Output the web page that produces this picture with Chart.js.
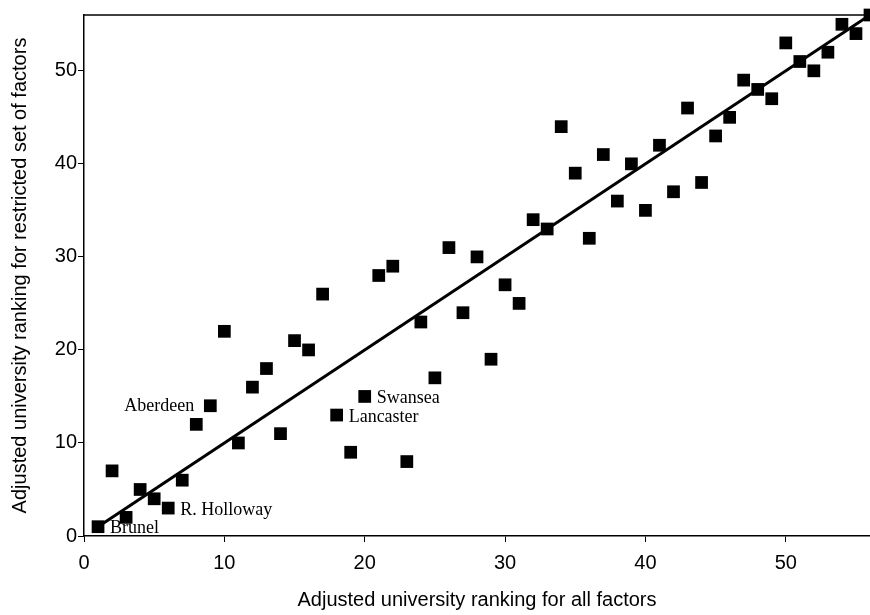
<!DOCTYPE html>
<html>
<head>
<meta charset="utf-8">
<script src="https://cdn.jsdelivr.net/npm/chart.js@4"></script>
<style>
  html, body { margin: 0; padding: 0; background: #fff; overflow: hidden; }
  #wrap { width: 870px; height: 615px; }
</style>
</head>
<body>
<div id="wrap"><canvas id="scatter"></canvas></div>
<script>
// ranking on all factors vs ranking on restricted set
const allFactors = [1, 2, 3, 4, 5, 6, 7, 8, 9, 10, 11, 12, 13, 14, 15, 16, 17, 18, 19, 20,
    21, 22, 23, 24, 25, 26, 27, 28, 29, 30, 31, 32, 33, 34, 35, 36, 37, 38, 39, 40,
    41, 42, 43, 44, 45, 46, 47, 48, 49, 50, 51, 52, 53, 54, 55, 56];
const restricted = [1, 7, 2, 5, 4, 3, 6, 12, 14, 22, 10, 16, 18, 11, 21, 20, 26, 13, 9, 15,
    28, 29, 8, 23, 17, 31, 24, 30, 19, 27, 25, 34, 33, 44, 39, 32, 41, 36, 40, 35,
    42, 37, 46, 38, 43, 45, 49, 48, 47, 53, 51, 50, 52, 55, 54, 56];
const lineX = [1, 56];
const lineY = [1, 56];
const namedUnis = ["Brunel", "R. Holloway", "Aberdeen", "Lancaster", "Swansea"];
const namedRanks = [1, 6, 9, 18, 20];
const axisTicks = [0, 10, 20, 30, 40, 50];

const points = allFactors.map((x, i) => ({x: x, y: restricted[i]}));
const linePts = lineX.map((x, i) => ({x: x, y: lineY[i]}));

// label placement: which side of the marker
const labelSide = {"Aberdeen": "left"};

const uniLabels = {
    id: 'uniLabels',
    afterDatasetsDraw(chart) {
        const ctx = chart.ctx;
        const xs = chart.scales.x, ys = chart.scales.y;
        ctx.save();
        ctx.font = '18px "Liberation Serif", "Times New Roman", serif';
        ctx.fillStyle = '#000';
        ctx.textBaseline = 'middle';
        namedUnis.forEach((name, i) => {
            const r = namedRanks[i];
            const px = xs.getPixelForValue(r);
            const py = ys.getPixelForValue(restricted[allFactors.indexOf(r)]);
            if (labelSide[name] == 'left') {
                ctx.textAlign = 'right';
                ctx.fillText(name, px - 16, py + 1);
            } else {
                ctx.textAlign = 'left';
                ctx.fillText(name, px + 12, py + 2);
            }
        });
        ctx.restore();
    }
};

const frame = {
    id: 'frame',
    beforeDatasetsDraw(chart) {
        const a = chart.chartArea, ctx = chart.ctx;
        ctx.save();
        ctx.strokeStyle = '#000';
        ctx.lineWidth = 1.5;
        ctx.beginPath();
        ctx.moveTo(a.left, a.top);
        ctx.lineTo(a.right, a.top);
        ctx.stroke();
        ctx.restore();
    }
};

const tickFont = {family: '"Liberation Sans", Arial, sans-serif', size: 20};

new Chart("scatter", {
    type: "scatter",
    data: {
        datasets: [{
            data: points,
            pointStyle: 'rect',
            pointRadius: 9,
            pointHoverRadius: 9,
            backgroundColor: '#000',
            borderColor: '#000',
            borderWidth: 0,
            clip: false
        }, {
            type: 'line',
            data: linePts,
            borderColor: '#000',
            borderWidth: 3,
            pointRadius: 0,
            fill: false
        }]
    },
    options: {
        responsive: true,
        maintainAspectRatio: false,
        animation: false,
        layout: {autoPadding: false, padding: {top: 15, right: 0, left: 0, bottom: 0}},
        plugins: {
            legend: {display: false},
            tooltip: {enabled: false}
        },
        scales: {
            x: {
                type: 'linear',
                min: 0,
                max: 56,
                afterBuildTicks: s => { s.ticks = axisTicks.map(v => ({value: v})); },
                afterFit: s => { s.height = 79; s.paddingRight = 0; s.paddingLeft = 0; },
                ticks: {color: '#000', font: tickFont, padding: 9, maxRotation: 0},
                grid: {drawOnChartArea: false, drawTicks: true, tickLength: 6, color: '#000'},
                border: {display: true, color: '#000', width: 1.5},
                title: {
                    display: true,
                    text: 'Adjusted university ranking for all factors',
                    color: '#000',
                    font: tickFont,
                    padding: {top: 4, bottom: 3}
                }
            },
            y: {
                type: 'linear',
                min: 0,
                max: 56,
                afterBuildTicks: s => { s.ticks = axisTicks.map(v => ({value: v})); },
                afterFit: s => { s.width = 84; s.paddingTop = 0; s.paddingBottom = 0; },
                ticks: {color: '#000', font: tickFont, padding: 1},
                grid: {drawOnChartArea: false, drawTicks: true, tickLength: 6, color: '#000'},
                border: {display: true, color: '#000', width: 1.5},
                title: {
                    display: true,
                    text: 'Adjusted university ranking for restricted set of factors',
                    color: '#000',
                    font: tickFont,
                    padding: {top: 8, bottom: 4}
                }
            }
        }
    },
    plugins: [frame, uniLabels]
});
</script>
</body>
</html>
